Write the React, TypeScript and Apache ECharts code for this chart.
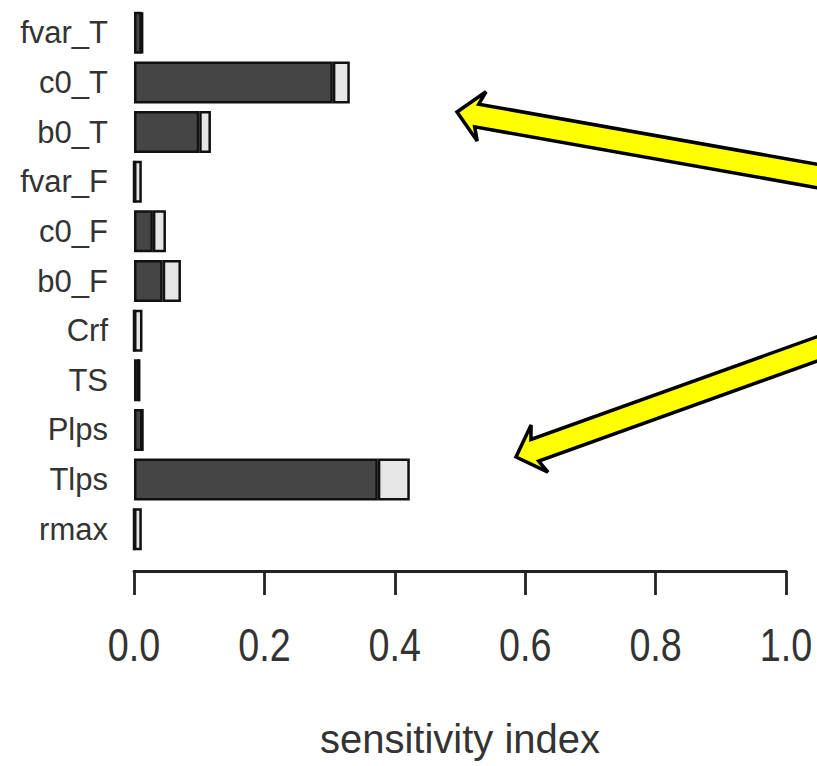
import React, { useEffect, useRef } from "react";
import * as echarts from "echarts";

const categories = ["fvar_T", "c0_T", "b0_T", "fvar_F", "c0_F", "b0_F", "Crf", "TS", "Plps", "Tlps", "rmax"];
const firstOrder = [0.012, 0.305, 0.1, 0, 0.029, 0.044, 0, 0.008, 0.013, 0.374, 0];
const totalOrder = [0.013, 0.331, 0.118, 0.012, 0.049, 0.072, 0.013, 0.008, 0.013, 0.423, 0.012];
const xTicks = [0, 0.2, 0.4, 0.6, 0.8, 1.0];
const xTickLabels = ["0.0", "0.2", "0.4", "0.6", "0.8", "1.0"];

// arrow geometry: [tipX, tipY, tailX, tailY]
const arrowsDef = [
  [457, 112, 830, 178.3],
  [516, 457, 830, 344.3],
];

function arrowPoints(tx: number, ty: number, ex: number, ey: number) {
  const dx = ex - tx, dy = ey - ty;
  const L = Math.sqrt(dx * dx + dy * dy);
  const ux = dx / L, uy = dy / L;
  const nx = -uy, ny = ux;
  const headLen = 25, headHalf = 25, notch = 20, shaftHalf = 11.5;
  const p = (a: number, b: number) => [tx + ux * a + nx * b, ty + uy * a + ny * b];
  return [
    p(0, 0),
    p(headLen, headHalf),
    p(notch, shaftHalf),
    p(L, shaftHalf),
    p(L, -shaftHalf),
    p(notch, -shaftHalf),
    p(headLen, -headHalf),
  ];
}

export default function App() {
  const ref = useRef<HTMLDivElement>(null);
  useEffect(() => {
    if (!ref.current) return;
    const chart = echarts.init(ref.current, null, { renderer: "svg" });
    const interaction = totalOrder.map((t, i) => Math.max(0, +(t - firstOrder[i]).toFixed(4)));
    chart.setOption({
      animation: false,
      backgroundColor: "#ffffff",
      grid: { left: 134, right: 31, top: 8, bottom: 212, containLabel: false },
      xAxis: {
        type: "value",
        min: 0,
        max: 1,
        interval: 0.2,
        offset: 17,
        splitLine: { show: false },
        axisLine: { show: true, lineStyle: { color: "#222", width: 2.8 } },
        axisTick: { show: true, length: 24, lineStyle: { color: "#222", width: 2.8 } },
        axisLabel: { show: false },
        name: "sensitivity index",
        nameLocation: "middle",
        nameGap: 148,
        nameTextStyle: { fontSize: 40, color: "#333", fontFamily: "'Liberation Sans', Arial, sans-serif" },
      },
      yAxis: {
        type: "category",
        inverse: true,
        data: categories,
        axisLine: { show: false },
        axisTick: { show: false },
        axisLabel: {
          margin: 26,
          fontSize: 31,
          color: "#333",
          fontFamily: "'Liberation Sans', Arial, sans-serif",
        },
      },
      series: [
        {
          type: "bar",
          stack: "s",
          data: firstOrder,
          barWidth: 42,
          itemStyle: { color: "#454545", borderColor: "#111", borderWidth: 2.5 },
        },
        {
          type: "bar",
          stack: "s",
          data: interaction,
          barWidth: 42,
          itemStyle: { color: "#e6e6e6", borderColor: "#111", borderWidth: 2.5 },
        },
      ],
    });
    const tickTexts = xTicks.map((v, i) => {
      const px = chart.convertToPixel({ xAxisIndex: 0 }, v) as number;
      return {
        type: "text",
        x: px,
        y: 645,
        scaleX: 0.82,
        z: 50,
        style: {
          text: xTickLabels[i],
          fontSize: 46,
          fontFamily: "'Liberation Sans', Arial, sans-serif",
          fill: "#333",
          align: "center",
          verticalAlign: "middle",
          textAlign: "center",
          textVerticalAlign: "middle",
        },
      };
    });
    const arrowEls = arrowsDef.map((a) => ({
      type: "polygon",
      z: 100,
      shape: { points: arrowPoints(a[0], a[1], a[2], a[3]) },
      style: { fill: "#ffff00", stroke: "#000", lineWidth: 3.5, lineJoin: "miter" },
    }));
    chart.setOption({ graphic: [...tickTexts, ...arrowEls] });
    return () => chart.dispose();
  }, []);
  return (
    <div
      ref={ref}
      style={{ position: "absolute", left: 0, top: 0, width: 817, height: 766, background: "#fff" }}
    />
  );
}
